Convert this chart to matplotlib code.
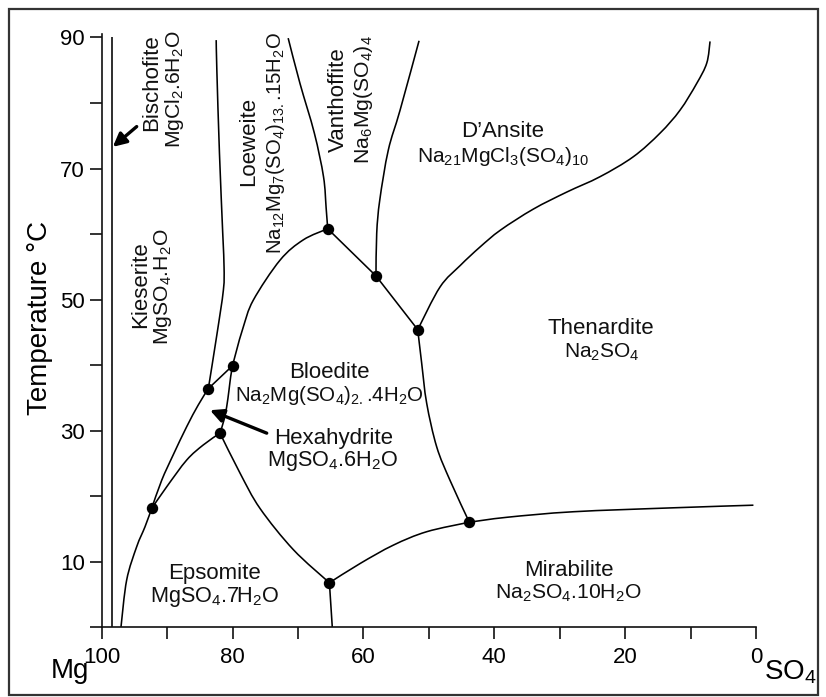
import matplotlib
matplotlib.use("Agg")
import matplotlib.pyplot as plt
from matplotlib.patches import Rectangle, PathPatch
from matplotlib.path import Path

plt.rcParams["font.family"] = ["Liberation Sans", "DejaVu Sans"]
plt.rcParams["mathtext.fontset"] = "custom"
plt.rcParams["mathtext.rm"] = "Liberation Sans"

# ---- phase boundaries: (Mg-SO4 axis value, temperature in degC) ----
bischofite_x = [98.4, 98.4]
bischofite_t = [0.0, 90.0]

epsomite_left_x = [97.05, 96.18, 94.65, 93.38, 92.36]
epsomite_left_t = [0.0, 7.18, 12.26, 15.3, 18.1]

kieserite_low_x = [92.36, 90.83, 89.06, 87.0, 85.24, 83.7]
kieserite_low_t = [18.1, 22.4, 26.3, 30.6, 33.9, 36.4]

kieserite_loeweite_x = [83.7, 82.4, 81.4, 81.3, 81.5, 82.0, 82.4, 82.5]
kieserite_loeweite_t = [36.4, 44.6, 51.45, 55.0, 60.1, 72.3, 85.0, 89.6]

epsomite_hexa_x = [92.36, 90.07, 87.0, 84.47, 81.92]
epsomite_hexa_t = [18.1, 21.4, 25.5, 27.8, 29.6]

hexa_bloedite_x = [81.92, 81.31, 80.9, 80.54, 80.29, 80.0]
hexa_bloedite_t = [29.6, 31.6, 33.6, 36.2, 38.2, 39.9]

kieserite_bloedite_x = [83.7, 80.0]
kieserite_bloedite_t = [36.4, 39.9]

loeweite_bloedite_x = [80.0, 79.37, 78.36, 76.83, 72.75, 69.2, 65.46]
loeweite_bloedite_t = [39.9, 42.3, 45.8, 49.9, 56.0, 59.1, 60.8]

loeweite_vanthoffite_x = [65.46, 65.7, 66.1, 67.5, 69.7, 71.5]
loeweite_vanthoffite_t = [60.8, 64.0, 68.75, 75.4, 83.0, 89.9]

vanthoffite_bloedite_x = [65.46, 58.08]
vanthoffite_bloedite_t = [60.8, 53.6]

vanthoffite_dansite_x = [58.08, 57.97, 57.5, 56.2, 54.4, 51.5]
vanthoffite_dansite_t = [53.6, 60.1, 65.2, 72.8, 78.9, 89.5]

dansite_bloedite_x = [58.08, 51.7]
dansite_bloedite_t = [53.6, 45.4]

dansite_thenardite_x = [51.7, 48.3, 45.2, 42.2, 39.05, 34.04, 28.93,
                        23.84, 18.75, 14.67, 11.62, 9.06, 7.53, 7.03]
dansite_thenardite_t = [45.4, 51.9, 55.2, 58.0, 60.6, 63.8, 66.4,
                        68.75, 71.8, 75.4, 78.9, 83.0, 86.1, 89.4]

bloedite_thenardite_x = [51.7, 51.1, 50.33, 48.8, 46.77, 43.82]
bloedite_thenardite_t = [45.4, 40.3, 34.15, 27.5, 22.4, 16.0]

epsomite_bloedite_x = [81.92, 78.86, 75.8, 70.7, 65.2]
epsomite_bloedite_t = [29.6, 23.5, 18.1, 11.8, 6.76]

epsomite_mirabilite_x = [65.2, 64.76]
epsomite_mirabilite_t = [6.76, 0.0]

bloedite_mirabilite_x = [65.2, 60.5, 55.43, 50.33, 43.82]
bloedite_mirabilite_t = [6.76, 9.7, 12.5, 14.55, 16.0]

thenardite_mirabilite_x = [43.82, 38.1, 27.9, 12.64, 0.4]
thenardite_mirabilite_t = [16.0, 16.75, 17.6, 18.2, 18.6]

# invariant points
invariant_x = [92.36, 81.92, 83.7, 80.0, 65.46, 58.08, 51.7, 43.82, 65.2]
invariant_t = [18.1, 29.6, 36.4, 39.9, 60.8, 53.6, 45.4, 16.0, 6.76]

# field labels
field_names = ["Bischofite", "Loeweite", "Vanthoffite", "Kieserite"]
field_formulas_rot = [
    r"MgCl$_\mathregular{2}$.6H$_\mathregular{2}$O",
    r"Na$_\mathregular{12}$Mg$_\mathregular{7}$(SO$_\mathregular{4}$)$_\mathregular{13.}$.15H$_\mathregular{2}$O",
    r"Na$_\mathregular{6}$Mg(SO$_\mathregular{4}$)$_\mathregular{4}$",
    r"MgSO$_\mathregular{4}$.H$_\mathregular{2}$O",
]
name_pos_rot = [(92.36, 83.1), (77.6, 74.1), (63.84, 80.5), (94.07, 52.2)]
formula_pos_rot = [(88.8, 82.1), (73.5, 73.9), (60.0, 80.5), (90.7, 52.0)]
formula_size_rot = [15.2, 14.6, 15.2, 15.2]

flat_names = ["D\u2019Ansite", "Thenardite", "Bloedite", "Hexahydrite",
              "Epsomite", "Mirabilite"]
flat_formulas = [
    r"Na$_\mathregular{21}$MgCl$_\mathregular{3}$(SO$_\mathregular{4}$)$_\mathregular{10}$",
    r"Na$_\mathregular{2}$SO$_\mathregular{4}$",
    r"Na$_\mathregular{2}$Mg(SO$_\mathregular{4}$)$_\mathregular{2.}$.4H$_\mathregular{2}$O",
    r"MgSO$_\mathregular{4}$.6H$_\mathregular{2}$O",
    r"MgSO$_\mathregular{4}$.7H$_\mathregular{2}$O",
    r"Na$_\mathregular{2}$SO$_\mathregular{4}$.10H$_\mathregular{2}$O",
]
flat_name_pos = [(38.67, 75.7), (23.73, 45.6), (65.15, 38.9), (64.5, 28.8),
                 (82.7, 8.1), (28.6, 8.6)]
flat_formula_pos = [(38.67, 71.9), (23.6, 42.0), (65.26, 35.4), (64.65, 25.4),
                    (82.7, 4.6), (28.7, 5.2)]
flat_formula_size = [15.0, 15.0, 14.8, 15.6, 15.6, 15.2]

# pointer arrows (tail, head)
arrow_bischofite = ((94.65, 76.4), (98.3, 73.3))
arrow_hexahydrite = ((74.78, 29.6), (83.45, 33.1))

x_major = [100, 80, 60, 40, 20, 0]
x_minor = [90, 70, 50, 30, 10]
y_major = [10, 30, 50, 70, 90]
y_minor = [0, 20, 40, 60, 80]


def boundary_path(xs, ys):
    """Smooth cubic path passing through the given boundary vertices."""
    pts = list(zip(xs, ys))
    if len(pts) == 2:
        return Path(pts, [Path.MOVETO, Path.LINETO])
    verts = [pts[0]]
    codes = [Path.MOVETO]
    n = len(pts)
    for i in range(n - 1):
        p0 = pts[max(i - 1, 0)]
        p1 = pts[i]
        p2 = pts[i + 1]
        p3 = pts[min(i + 2, n - 1)]
        c1 = (p1[0] + (p2[0] - p0[0]) / 6.0, p1[1] + (p2[1] - p0[1]) / 6.0)
        c2 = (p2[0] - (p3[0] - p1[0]) / 6.0, p2[1] - (p3[1] - p1[1]) / 6.0)
        verts += [c1, c2, p2]
        codes += [Path.CURVE4] * 3
    return Path(verts, codes)


# ---- figure ----
fig = plt.figure(figsize=(8.26, 6.97), dpi=100)
ax = fig.add_axes([0.1231, 0.1004, 0.7922, 0.8505])
ax.set_xlim(100, 0)
ax.set_ylim(0, 90.5)

curves = [
    (bischofite_x, bischofite_t),
    (epsomite_left_x, epsomite_left_t),
    (kieserite_low_x, kieserite_low_t),
    (kieserite_loeweite_x, kieserite_loeweite_t),
    (epsomite_hexa_x, epsomite_hexa_t),
    (hexa_bloedite_x, hexa_bloedite_t),
    (kieserite_bloedite_x, kieserite_bloedite_t),
    (loeweite_bloedite_x, loeweite_bloedite_t),
    (loeweite_vanthoffite_x, loeweite_vanthoffite_t),
    (vanthoffite_bloedite_x, vanthoffite_bloedite_t),
    (vanthoffite_dansite_x, vanthoffite_dansite_t),
    (dansite_bloedite_x, dansite_bloedite_t),
    (dansite_thenardite_x, dansite_thenardite_t),
    (bloedite_thenardite_x, bloedite_thenardite_t),
    (epsomite_bloedite_x, epsomite_bloedite_t),
    (epsomite_mirabilite_x, epsomite_mirabilite_t),
    (bloedite_mirabilite_x, bloedite_mirabilite_t),
    (thenardite_mirabilite_x, thenardite_mirabilite_t),
]
for xs, ts in curves:
    ax.add_patch(PathPatch(boundary_path(xs, ts), fill=False,
                           edgecolor="black", lw=1.15, capstyle="butt",
                           joinstyle="round"))

ax.plot(invariant_x, invariant_t, "o", color="black", ms=7.2, zorder=5)

fs = 16
for name, pos in zip(field_names, name_pos_rot):
    ax.text(pos[0], pos[1], name, rotation=90, ha="center", va="center",
            fontsize=fs, color="#111111")
for formula, pos, size in zip(field_formulas_rot, formula_pos_rot,
                              formula_size_rot):
    ax.text(pos[0], pos[1], formula, rotation=90, ha="center", va="center",
            fontsize=size, color="#111111")
for name, pos in zip(flat_names, flat_name_pos):
    ax.text(pos[0], pos[1], name, ha="center", va="center", fontsize=fs,
            color="#111111")
for formula, pos, size in zip(flat_formulas, flat_formula_pos,
                              flat_formula_size):
    ax.text(pos[0], pos[1], formula, ha="center", va="center", fontsize=size,
            color="#111111")

for tail, head in (arrow_bischofite, arrow_hexahydrite):
    ax.annotate("", xy=head, xytext=tail,
                arrowprops=dict(arrowstyle="-|>", lw=2.4, color="black",
                                mutation_scale=20, shrinkA=0, shrinkB=0))

# axes styling
for side in ("top", "right"):
    ax.spines[side].set_visible(False)
for side in ("left", "bottom"):
    ax.spines[side].set_linewidth(1.2)
    ax.spines[side].set_color("#111111")

ax.set_xticks(x_major)
ax.set_xticks(x_minor, minor=True)
ax.set_yticks(y_major)
ax.set_yticks(y_minor, minor=True)
ax.tick_params(which="both", direction="out", length=8.5, width=1.2,
               color="#111111")
ax.tick_params(axis="x", which="major", pad=6, labelsize=16)
ax.tick_params(axis="y", which="major", pad=3.5, labelsize=16)

fig.text(40 / 826, 1 - 318 / 697, "Temperature \u00b0C", rotation=90,
         ha="center", va="center", fontsize=20)
fig.text(70 / 826, 1 - 671 / 697, "Mg", ha="center", va="center", fontsize=20)
fig.text(790 / 826, 1 - 672 / 697, r"SO$_\mathregular{4}$", ha="center",
         va="center", fontsize=20)

# outer frame
fig.patches.append(Rectangle((9 / 826, 2 / 697), 809 / 826, 686 / 697,
                             transform=fig.transFigure, fill=False,
                             edgecolor="#333333", lw=1.6))

fig.savefig("out.png", dpi=100)
